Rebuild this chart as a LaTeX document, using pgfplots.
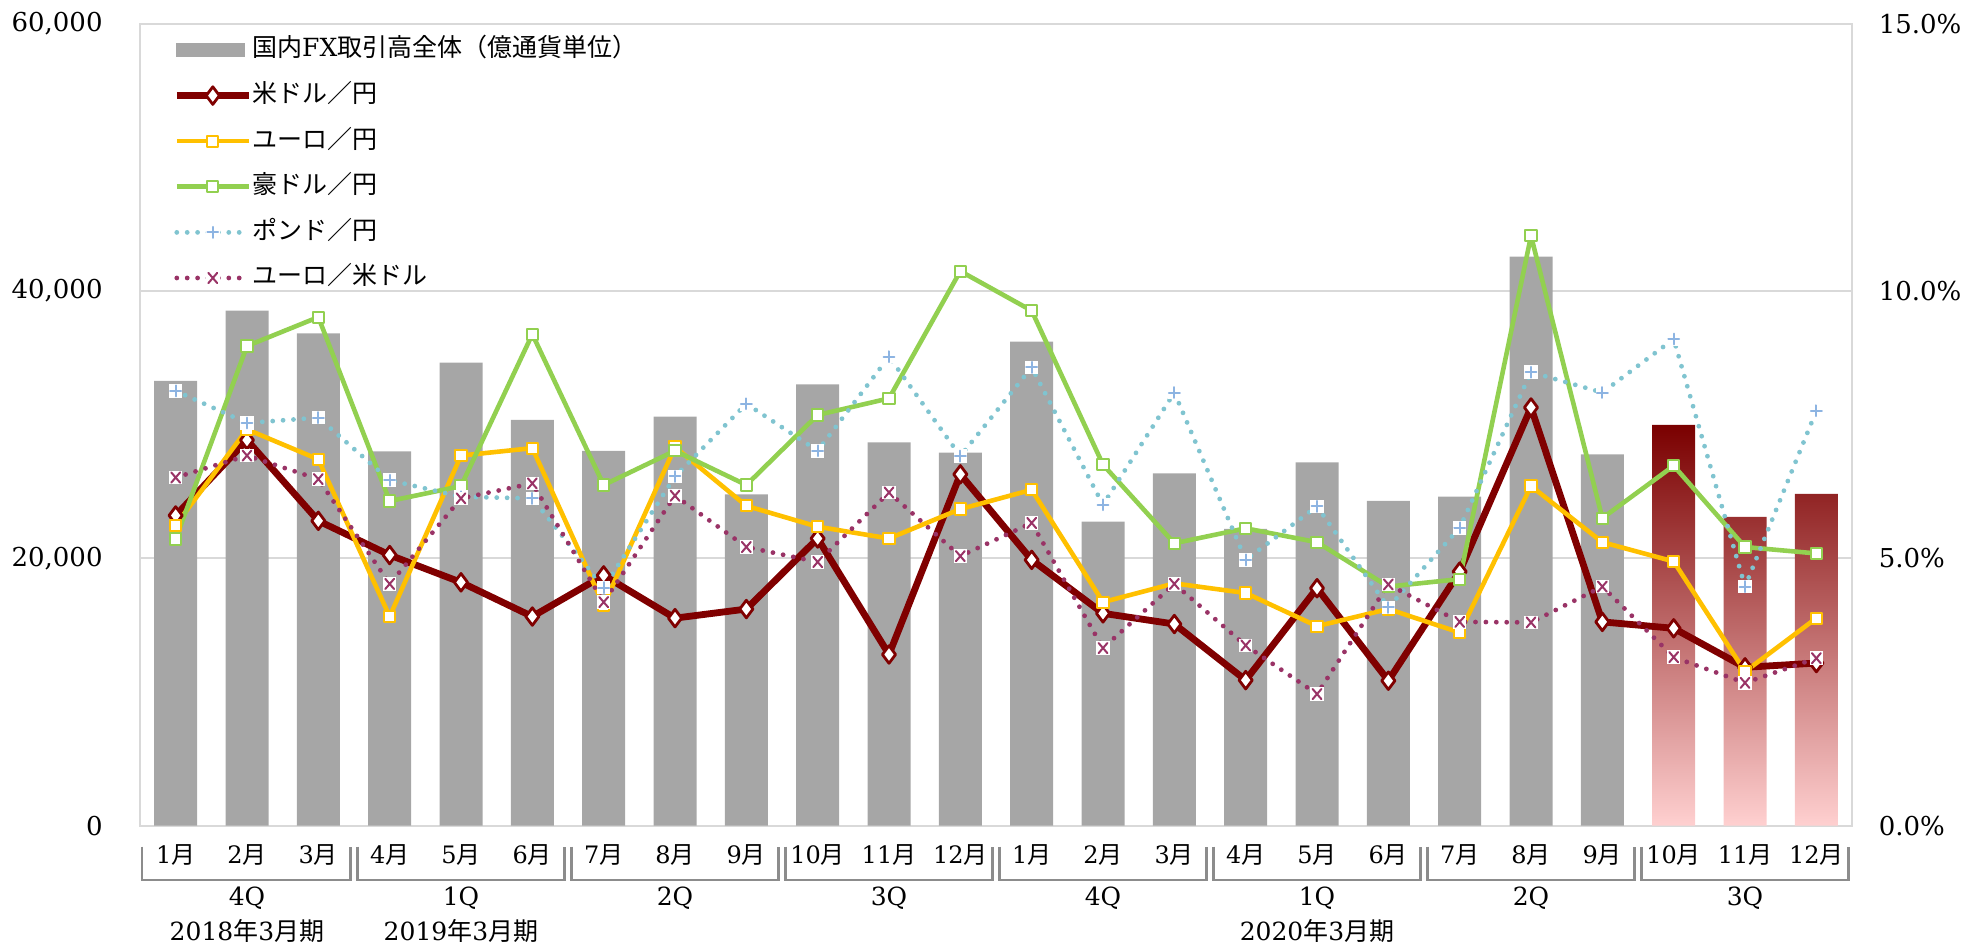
\documentclass[border=0pt]{standalone}
\usepackage{pgfplots}
\pgfplotsset{compat=1.18}
\usepackage{pgfplotstable}
\usepackage{fontspec}
\setmainfont{DejaVu Serif}
\newfontfamily\cjk{Noto Sans CJK JP}

\definecolor{barg}{HTML}{A6A6A6}
\definecolor{gridc}{HTML}{D9D9D9}
\definecolor{usd}{HTML}{800000}
\definecolor{eur}{HTML}{FFC000}
\definecolor{aud}{HTML}{92D050}
\definecolor{gbpl}{HTML}{80C4D0}
\definecolor{gbpm}{HTML}{8DB4E2}
\definecolor{eurusd}{HTML}{993366}
\definecolor{redtop}{HTML}{7A0000}
\definecolor{redbot}{HTML}{FFD0D0}
\definecolor{brk}{HTML}{8C8C8C}

\pgfdeclareplotmark{wplus}{%
  \pgfpathrectangle{\pgfqpoint{-\pgfplotmarksize}{-\pgfplotmarksize}}{\pgfqpoint{2\pgfplotmarksize}{2\pgfplotmarksize}}%
  \pgfsetfillcolor{white}\pgfusepathqfill
  \pgfpathmoveto{\pgfqpoint{-0.8\pgfplotmarksize}{0pt}}\pgfpathlineto{\pgfqpoint{0.8\pgfplotmarksize}{0pt}}%
  \pgfpathmoveto{\pgfqpoint{0pt}{-0.8\pgfplotmarksize}}\pgfpathlineto{\pgfqpoint{0pt}{0.8\pgfplotmarksize}}%
  \pgfusepathqstroke}
\pgfdeclareplotmark{wcross}{%
  \pgfpathrectangle{\pgfqpoint{-\pgfplotmarksize}{-\pgfplotmarksize}}{\pgfqpoint{2\pgfplotmarksize}{2\pgfplotmarksize}}%
  \pgfsetfillcolor{white}\pgfusepathqfill
  \pgfpathmoveto{\pgfqpoint{-0.65\pgfplotmarksize}{-0.75\pgfplotmarksize}}\pgfpathlineto{\pgfqpoint{0.65\pgfplotmarksize}{0.75\pgfplotmarksize}}%
  \pgfpathmoveto{\pgfqpoint{-0.65\pgfplotmarksize}{0.75\pgfplotmarksize}}\pgfpathlineto{\pgfqpoint{0.65\pgfplotmarksize}{-0.75\pgfplotmarksize}}%
  \pgfusepathqstroke}

\newcommand\M[1]{#1{\cjk 月}}

\pgfplotstableread{
x usd eur aud gbp eurusd
0 5.80 5.62 5.36 8.13 6.51
1 7.21 7.41 8.97 7.53 6.92
2 5.70 6.85 9.51 7.63 6.48
3 5.06 3.91 6.07 6.46 4.52
4 4.55 6.92 6.35 6.15 6.12
5 3.91 7.06 9.19 6.12 6.40
6 4.68 4.12 6.37 4.45 4.18
7 3.88 7.08 7.01 6.53 6.17
8 4.05 5.98 6.37 7.89 5.21
9 5.37 5.59 7.68 7.01 4.93
10 3.20 5.37 7.99 8.77 6.23
11 6.57 5.92 10.37 6.91 5.04
12 4.97 6.28 9.63 8.57 5.66
13 3.97 4.18 6.75 6.00 3.32
14 3.77 4.53 5.28 8.10 4.52
15 2.72 4.35 5.56 4.97 3.37
16 4.44 3.73 5.30 5.97 2.46
17 2.71 4.05 4.47 4.08 4.51
18 4.75 3.61 4.61 5.57 3.81
19 7.82 6.35 11.03 8.48 3.80
20 3.81 5.30 5.75 8.10 4.47
21 3.69 4.94 6.73 9.10 3.15
22 2.96 2.88 5.21 4.47 2.67
23 3.04 3.88 5.09 7.76 3.13
}\rates

\begin{document}
\begin{tikzpicture}
\begin{axis}[name=ax, at={(0,0)}, anchor=south west, scale only axis,
  width=856pt, height=401pt, xmin=-0.5, xmax=23.5, ymin=0, ymax=60000,
  clip=false, axis line style={draw=gridc, line width=1pt},
  ymajorgrids, grid style={draw=gridc, line width=1pt},
  major tick length=0pt,
  ytick={0,20000,40000,60000}, scaled y ticks=false,
  /pgf/number format/1000 sep={,},
  /pgf/number format/assume math mode=true,
  yticklabel style={font=\fontsize{13}{15}\selectfont, anchor=east, inner sep=0pt, xshift=-18.5pt},
  xtick={0,...,23},
  xticklabels={\M{1},\M{2},\M{3},\M{4},\M{5},\M{6},\M{7},\M{8},\M{9},\M{10},\M{11},\M{12},
               \M{1},\M{2},\M{3},\M{4},\M{5},\M{6},\M{7},\M{8},\M{9},\M{10},\M{11},\M{12}},
  xticklabel style={font=\fontsize{12}{14}\selectfont, anchor=center, inner sep=0pt, yshift=-14.7pt},
]
\addplot[ybar, bar width=21.5pt, bar shift=0pt, fill=barg, draw=none] coordinates {
(0,33264)(1,38525)(2,36834)(3,28005)(4,34634)(5,30347)(6,28028)(7,30594)
(8,24788)(9,33018)(10,28678)(11,27900)(12,36206)(13,22738)(14,26359)(15,22200)
(16,27183)(17,24287)(18,24610)(19,42565)(20,27780)};
\addplot[ybar, bar width=21.5pt, bar shift=0pt, draw=none, top color=redtop, bottom color=redbot] coordinates {
(21,29973)(22,23090)(23,24810)};

% category group brackets
\draw[brk, line width=1.2pt] ([yshift=-10.5pt]axis cs:-0.47,0) -- ([yshift=-27.2pt]axis cs:-0.47,0) -- ([yshift=-27.2pt]axis cs:2.45,0) -- ([yshift=-10.5pt]axis cs:2.45,0);
\draw[brk, line width=1.2pt] ([yshift=-10.5pt]axis cs:2.55,0) -- ([yshift=-27.2pt]axis cs:2.55,0) -- ([yshift=-27.2pt]axis cs:5.45,0) -- ([yshift=-10.5pt]axis cs:5.45,0);
\draw[brk, line width=1.2pt] ([yshift=-10.5pt]axis cs:5.55,0) -- ([yshift=-27.2pt]axis cs:5.55,0) -- ([yshift=-27.2pt]axis cs:8.45,0) -- ([yshift=-10.5pt]axis cs:8.45,0);
\draw[brk, line width=1.2pt] ([yshift=-10.5pt]axis cs:8.55,0) -- ([yshift=-27.2pt]axis cs:8.55,0) -- ([yshift=-27.2pt]axis cs:11.45,0) -- ([yshift=-10.5pt]axis cs:11.45,0);
\draw[brk, line width=1.2pt] ([yshift=-10.5pt]axis cs:11.55,0) -- ([yshift=-27.2pt]axis cs:11.55,0) -- ([yshift=-27.2pt]axis cs:14.45,0) -- ([yshift=-10.5pt]axis cs:14.45,0);
\draw[brk, line width=1.2pt] ([yshift=-10.5pt]axis cs:14.55,0) -- ([yshift=-27.2pt]axis cs:14.55,0) -- ([yshift=-27.2pt]axis cs:17.45,0) -- ([yshift=-10.5pt]axis cs:17.45,0);
\draw[brk, line width=1.2pt] ([yshift=-10.5pt]axis cs:17.55,0) -- ([yshift=-27.2pt]axis cs:17.55,0) -- ([yshift=-27.2pt]axis cs:20.45,0) -- ([yshift=-10.5pt]axis cs:20.45,0);
\draw[brk, line width=1.2pt] ([yshift=-10.5pt]axis cs:20.55,0) -- ([yshift=-27.2pt]axis cs:20.55,0) -- ([yshift=-27.2pt]axis cs:23.45,0) -- ([yshift=-10.5pt]axis cs:23.45,0);

\begin{scope}[every node/.style={font=\fontsize{12.5}{15}\selectfont, inner sep=0pt}]
\node at ([yshift=-36.2pt]axis cs:1,0) {4Q};
\node at ([yshift=-36.2pt]axis cs:4,0) {1Q};
\node at ([yshift=-36.2pt]axis cs:7,0) {2Q};
\node at ([yshift=-36.2pt]axis cs:10,0) {3Q};
\node at ([yshift=-36.2pt]axis cs:13,0) {4Q};
\node at ([yshift=-36.2pt]axis cs:16,0) {1Q};
\node at ([yshift=-36.2pt]axis cs:19,0) {2Q};
\node at ([yshift=-36.2pt]axis cs:22,0) {3Q};
\node at ([yshift=-52.6pt]axis cs:1,0) {2018{\cjk 年}3{\cjk 月期}};
\node at ([yshift=-52.6pt]axis cs:4,0) {2019{\cjk 年}3{\cjk 月期}};
\node at ([yshift=-52.6pt]axis cs:16,0) {2020{\cjk 年}3{\cjk 月期}};
\end{scope}
\end{axis}

\begin{axis}[at={(0,0)}, anchor=south west, scale only axis,
  width=856pt, height=401pt, xmin=-0.5, xmax=23.5, ymin=0, ymax=15,
  axis line style={draw=none}, xtick=\empty, ytick={0,5,10,15},
  yticklabel pos=right, major tick length=0pt,
  /pgf/number format/assume math mode=true,
  yticklabel={\pgfmathprintnumber[fixed,fixed zerofill,precision=1]{\tick}\%},
  yticklabel style={font=\fontsize{13}{15}\selectfont, anchor=west, inner sep=0pt, xshift=13.2pt},
  legend image code/.code={\draw[mark repeat=2,mark phase=2,#1] plot coordinates {(0pt,0pt) (18pt,0pt) (36pt,0pt)};},
  legend cell align=left,
  legend style={at={(0,1)}, anchor=north west, xshift=16.5pt, yshift=-7pt,
    draw=none, fill=none, inner sep=0pt, row sep=10.8pt,
    font=\fontsize{12.5}{15}\selectfont,
    nodes={inner sep=0pt, text height=9.5pt, text depth=2.5pt},
    /tikz/every odd column/.style={column sep=0pt}},
]
\addlegendimage{legend image code/.code={\fill[barg] (0pt,-3.3pt) rectangle (34pt,3.3pt);}}
\addlegendentry{{\cjk 国内}FX{\cjk 取引高全体（億通貨単位）}}

\addplot[color=usd, line width=3.4pt, line join=round, mark=diamond*, mark size=4.4pt,
  mark options={fill=white, draw=usd, line width=1.4pt}] table[x=x, y=usd]{\rates};
\addlegendentry{{\cjk 米ドル／円}}
\addplot[color=eur, line width=2.3pt, line join=round, mark=square*, mark size=2.8pt,
  mark options={fill=white, draw=eur, line width=1pt}] table[x=x, y=eur]{\rates};
\addlegendentry{{\cjk ユーロ／円}}
\addplot[color=aud, line width=2.3pt, line join=round, mark=square*, mark size=2.8pt,
  mark options={fill=white, draw=aud, line width=1pt}] table[x=x, y=aud]{\rates};
\addlegendentry{{\cjk 豪ドル／円}}
\addplot[color=gbpl, line width=2.4pt, line cap=round, dash pattern=on 0pt off 5.2pt,
  mark=wplus, mark size=3.4pt, mark options={solid, draw=gbpm, line width=1pt}] table[x=x, y=gbp]{\rates};
\addlegendentry{{\cjk ポンド／円}}
\addplot[color=eurusd, line width=2.4pt, line cap=round, dash pattern=on 0pt off 5.2pt,
  mark=wcross, mark size=3.4pt, mark options={solid, draw=eurusd, line width=1pt}] table[x=x, y=eurusd]{\rates};
\addlegendentry{{\cjk ユーロ／米ドル}}
\end{axis}
\path (-70pt,-60.2pt) rectangle (914pt,412.8pt);
\end{tikzpicture}
\end{document}
